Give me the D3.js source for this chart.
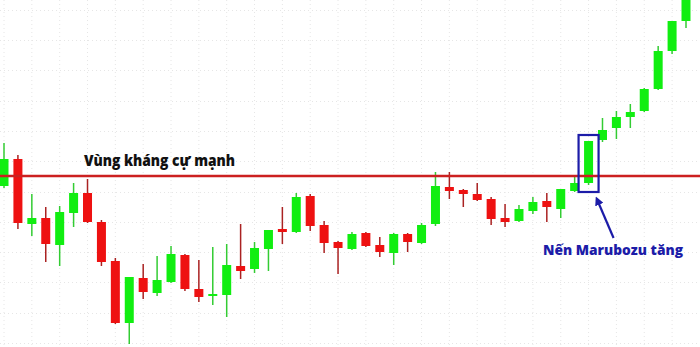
<!DOCTYPE html>
<meta charset="utf-8">
<head>
  <title>Marubozu breakout</title>
</head>

<style>
body {
  margin: 0;
  background: #fff;
}
svg text {
  font-family: "Open Sans", sans-serif;
  font-weight: 800;
}
</style>

<body>
  <div id="content">
    <svg width="700" height="347"></svg>
  </div>

  <script src="https://cdnjs.cloudflare.com/ajax/libs/d3/7.8.5/d3.min.js"></script>

  <script>
// candle data, one entry per bar
var opens  = [1328,1382,1252,1264,1210,1274,1314,1256,1178,1054,1144,1114,1136,1190,1122,1108,1110,1168,1162,1202,
              1242,1236,1308,1250,1216,1202,1234,1210,1194,1232,1214,1252,1326,1320,1312,1302,1264,1258,1278,1298,
              1282,1318,1334,1420,1444,1466,1478,1522,1598,1658];
var highs  = [1414,1390,1312,1286,1288,1334,1342,1260,1184,1146,1172,1188,1208,1192,1180,1206,1212,1252,1216,1240,
              1286,1314,1312,1258,1218,1236,1236,1226,1234,1234,1254,1356,1356,1322,1334,1306,1292,1290,1306,1314,
              1322,1346,1418,1464,1478,1492,1524,1608,1658,1720];
var lows   = [1324,1242,1228,1176,1168,1246,1254,1168,1052,1012,1102,1108,1134,1118,1096,1090,1066,1142,1154,1158,
              1212,1234,1238,1194,1152,1200,1206,1186,1170,1196,1212,1248,1302,1286,1298,1250,1246,1256,1272,1256,
              1264,1316,1330,1416,1422,1444,1476,1520,1592,1644];
var closes = [1382,1254,1264,1212,1276,1314,1256,1176,1054,1146,1116,1140,1192,1122,1106,1112,1170,1158,1204,1240,
              1236,1306,1248,1214,1204,1232,1208,1196,1232,1216,1250,1328,1318,1312,1300,1262,1256,1282,1296,1286,
              1322,1334,1418,1440,1466,1476,1522,1598,1658,1720];

var resistance = 1348;
var resistanceLabel = 'Vùng kháng cự mạnh';
var marubozuIndex = 42;
var marubozuLabel = 'Nến Marubozu tăng';

var width = 700, height = 347;
var svg = d3.select('#content svg');

var x = d3.scaleLinear()
  .domain([0, opens.length - 1])
  .range([4, 686]);

var y = d3.scaleLinear()
  .domain([1006, 1700])
  .range([347, 0]);

var candles = opens.map(function(o, i) {
  return {i: i, open: o, high: highs[i], low: lows[i], close: closes[i]};
});

// faint dotted grid
var grid = svg.append('g');
grid.selectAll('line.v')
  .data(d3.range(0, opens.length, 2))
  .enter().append('line')
  .attr('x1', function(d) { return x(d); })
  .attr('x2', function(d) { return x(d); })
  .attr('y1', 0).attr('y2', height);
grid.selectAll('line.h')
  .data(d3.range(1014, 1700, 60.6))
  .enter().append('line')
  .attr('x1', 0).attr('x2', width)
  .attr('y1', function(d) { return Math.round(y(d)) + 0.5; })
  .attr('y2', function(d) { return Math.round(y(d)) + 0.5; });
grid.selectAll('line')
  .attr('stroke', '#e6e6e6')
  .attr('stroke-width', 1)
  .attr('stroke-dasharray', '1,3');

var green = '#11ee11', red = '#ee1111';

var g = svg.append('g').selectAll('g')
  .data(candles)
  .enter().append('g');

g.append('line')
  .attr('x1', function(d) { return x(d.i); })
  .attr('x2', function(d) { return x(d.i); })
  .attr('y1', function(d) { return y(d.high); })
  .attr('y2', function(d) { return y(d.low); })
  .attr('stroke', function(d) { return d.close >= d.open ? '#33cc33' : '#aa2222'; })
  .attr('stroke-width', 1.5);

g.append('rect')
  .attr('x', function(d) { return x(d.i) - 4.5; })
  .attr('width', 9)
  .attr('y', function(d) { return y(Math.max(d.open, d.close)); })
  .attr('height', function(d) { return Math.max(1.5, Math.abs(y(d.open) - y(d.close))); })
  .attr('fill', function(d) { return d.close >= d.open ? green : red; });

// resistance line
svg.append('line')
  .attr('x1', 0).attr('x2', width)
  .attr('y1', y(resistance)).attr('y2', y(resistance))
  .attr('stroke', '#cc2020')
  .attr('stroke-width', 2.5);

svg.append('text')
  .attr('x', 84)
  .attr('y', y(resistance) - 10)
  .attr('font-size', 15)
  .attr('textLength', 151)
  .attr('lengthAdjust', 'spacingAndGlyphs')
  .attr('fill', '#111')
  .text(resistanceLabel);

// marubozu highlight
var m = candles[marubozuIndex];
var blue = '#1c1ca8';
var boxTop = y(m.high) - 6, boxBottom = y(m.low) + 7;
svg.append('rect')
  .attr('x', x(m.i) - 10)
  .attr('y', boxTop)
  .attr('width', 20)
  .attr('height', boxBottom - boxTop)
  .attr('fill', 'none')
  .attr('stroke', blue)
  .attr('stroke-width', 2.2);

svg.append('defs').append('marker')
  .attr('id', 'arrow')
  .attr('viewBox', '0 0 10 10')
  .attr('refX', 2).attr('refY', 5)
  .attr('markerWidth', 4).attr('markerHeight', 4)
  .attr('orient', 'auto')
  .append('path')
  .attr('d', 'M0,0L10,5L0,10z')
  .attr('fill', blue);

svg.append('line')
  .attr('x1', x(m.i) + 25).attr('y1', boxBottom + 46)
  .attr('x2', x(m.i) + 10).attr('y2', boxBottom + 11)
  .attr('stroke', blue)
  .attr('stroke-width', 2.2)
  .attr('marker-end', 'url(#arrow)');

svg.append('text')
  .attr('x', 543)
  .attr('y', boxBottom + 63)
  .attr('font-size', 14)
  .attr('textLength', 140)
  .attr('lengthAdjust', 'spacingAndGlyphs')
  .attr('fill', blue)
  .text(marubozuLabel);
  </script>
</body>
</html>
